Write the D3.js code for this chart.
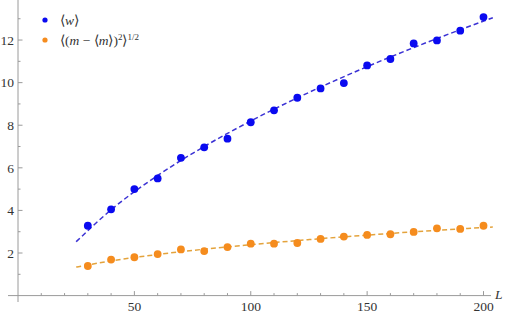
<!DOCTYPE html>
<html>
<head>
<meta charset="utf-8">
<script src="https://cdn.jsdelivr.net/npm/d3@7"></script>
<style>
  html, body { margin: 0; padding: 0; background: #fff; }
  svg { display: block; }
  svg text { font-family: 'Liberation Serif', 'Times New Roman', serif; }
</style>
</head>
<body>
<div id="chart"></div>
<script>
// data
const sizes = [30, 40, 50, 60, 70, 80, 90, 100, 110, 120, 130, 140, 150, 160, 170, 180, 190, 200];
const meanW = [3.28, 4.05, 5.0, 5.5, 6.47, 6.96, 7.37, 8.14, 8.70, 9.29, 9.73, 9.98, 10.81, 11.11, 11.84, 11.98, 12.44, 13.08];
const stdM = [1.39, 1.69, 1.80, 1.95, 2.17, 2.09, 2.28, 2.44, 2.44, 2.47, 2.66, 2.77, 2.85, 2.88, 2.99, 3.16, 3.13, 3.28];

// dashed fit curves
const fitL = [25, 40, 60, 80, 100, 125, 150, 175, 204];
const fitW = [2.53, 4.03, 5.64, 7.00, 8.20, 9.54, 10.75, 11.86, 13.05];
const fitM = [1.34, 1.63, 1.93, 2.18, 2.39, 2.63, 2.84, 3.03, 3.22];

const xTicks = [50, 100, 150, 200];
const yTicks = [2, 4, 6, 8, 10, 12];

const width = 506, height = 315;

const svg = d3.select('#chart').append('svg')
  .attr('width', width).attr('height', height)
  .attr('font-size', 13.5);

const x = d3.scaleLinear().domain([0, 200]).range([18, 483.5]);
const y = d3.scaleLinear().domain([0, 13.88]).range([295.6, 0]);

const axisColor = '#9a9a9a', textColor = '#333';
const blue = '#0a0af0', orange = '#f58c1e';
const blueLine = '#3b32d4', orangeLine = '#e4a33c';

// axes lines
svg.append('line').attr('x1', 8).attr('x2', 491).attr('y1', y(0)).attr('y2', y(0))
  .attr('stroke', axisColor).attr('stroke-width', 1);
svg.append('line').attr('x1', x(0)).attr('x2', x(0)).attr('y1', 0).attr('y2', 302)
  .attr('stroke', axisColor).attr('stroke-width', 1);

// x ticks
const xMinor = d3.range(10, 201, 10).filter(v => v % 50 !== 0);
svg.append('g').selectAll('line').data(xMinor).join('line')
  .attr('x1', d => x(d)).attr('x2', d => x(d))
  .attr('y1', y(0)).attr('y2', y(0) - 2.5)
  .attr('stroke', axisColor);
svg.append('g').selectAll('line').data(xTicks).join('line')
  .attr('x1', d => x(d)).attr('x2', d => x(d))
  .attr('y1', y(0)).attr('y2', y(0) - 4.5)
  .attr('stroke', axisColor);
svg.append('g').selectAll('text').data(xTicks).join('text')
  .attr('fill', textColor)
  .attr('x', d => x(d)).attr('y', 311)
  .attr('text-anchor', 'middle')
  .text(d => d);

// y ticks
const yMinor = d3.range(1, 14, 1).filter(v => v % 2 !== 0);
svg.append('g').selectAll('line').data(yMinor).join('line')
  .attr('x1', x(0)).attr('x2', x(0) + 2.5)
  .attr('y1', d => y(d)).attr('y2', d => y(d))
  .attr('stroke', axisColor);
svg.append('g').selectAll('line').data(yTicks).join('line')
  .attr('x1', x(0)).attr('x2', x(0) + 4.5)
  .attr('y1', d => y(d)).attr('y2', d => y(d))
  .attr('stroke', axisColor);
svg.append('g').selectAll('text').data(yTicks).join('text')
  .attr('fill', textColor)
  .attr('x', 14).attr('y', d => y(d)).attr('dy', '0.35em')
  .attr('text-anchor', 'end')
  .text(d => d);

// axis label
svg.append('text').attr('fill', textColor)
  .attr('x', 495).attr('y', 299)
  .attr('font-style', 'italic')
  .text('L');

// fit lines
const line = d3.line().curve(d3.curveMonotoneX);
svg.append('path')
  .attr('d', line(fitL.map((l, i) => [x(l), y(fitW[i])])))
  .attr('fill', 'none').attr('stroke', blueLine)
  .attr('stroke-width', 1.5).attr('stroke-dasharray', '5,3');
svg.append('path')
  .attr('d', line(fitL.map((l, i) => [x(l), y(fitM[i])])))
  .attr('fill', 'none').attr('stroke', orangeLine)
  .attr('stroke-width', 1.5).attr('stroke-dasharray', '5,3');

// points
svg.append('g').selectAll('circle').data(sizes).join('circle')
  .attr('cx', d => x(d)).attr('cy', (d, i) => y(meanW[i]))
  .attr('r', 3.9).attr('fill', blue);
svg.append('g').selectAll('circle').data(sizes).join('circle')
  .attr('cx', d => x(d)).attr('cy', (d, i) => y(stdM[i]))
  .attr('r', 3.9).attr('fill', orange);

// legend
const legend = svg.append('g');
legend.append('circle').attr('cx', 45).attr('cy', 20).attr('r', 2.6).attr('fill', blue);
legend.append('circle').attr('cx', 45).attr('cy', 40).attr('r', 2.6).attr('fill', orange);

const t1 = legend.append('text').attr('fill', textColor).attr('x', 60).attr('y', 24.5);
t1.append('tspan').text('⟨');
t1.append('tspan').attr('font-style', 'italic').text('w');
t1.append('tspan').text('⟩');

const t2 = legend.append('text').attr('fill', textColor).attr('x', 60).attr('y', 44.5);
t2.append('tspan').text('⟨(');
t2.append('tspan').attr('font-style', 'italic').text('m');
t2.append('tspan').text(' − ⟨');
t2.append('tspan').attr('font-style', 'italic').text('m');
t2.append('tspan').text('⟩)');
t2.append('tspan').attr('dy', -5).attr('font-size', 9).text('2');
t2.append('tspan').attr('dy', 5).text('⟩');
t2.append('tspan').attr('dy', -5).attr('font-size', 9).text('1/2');
</script>
</body>
</html>
